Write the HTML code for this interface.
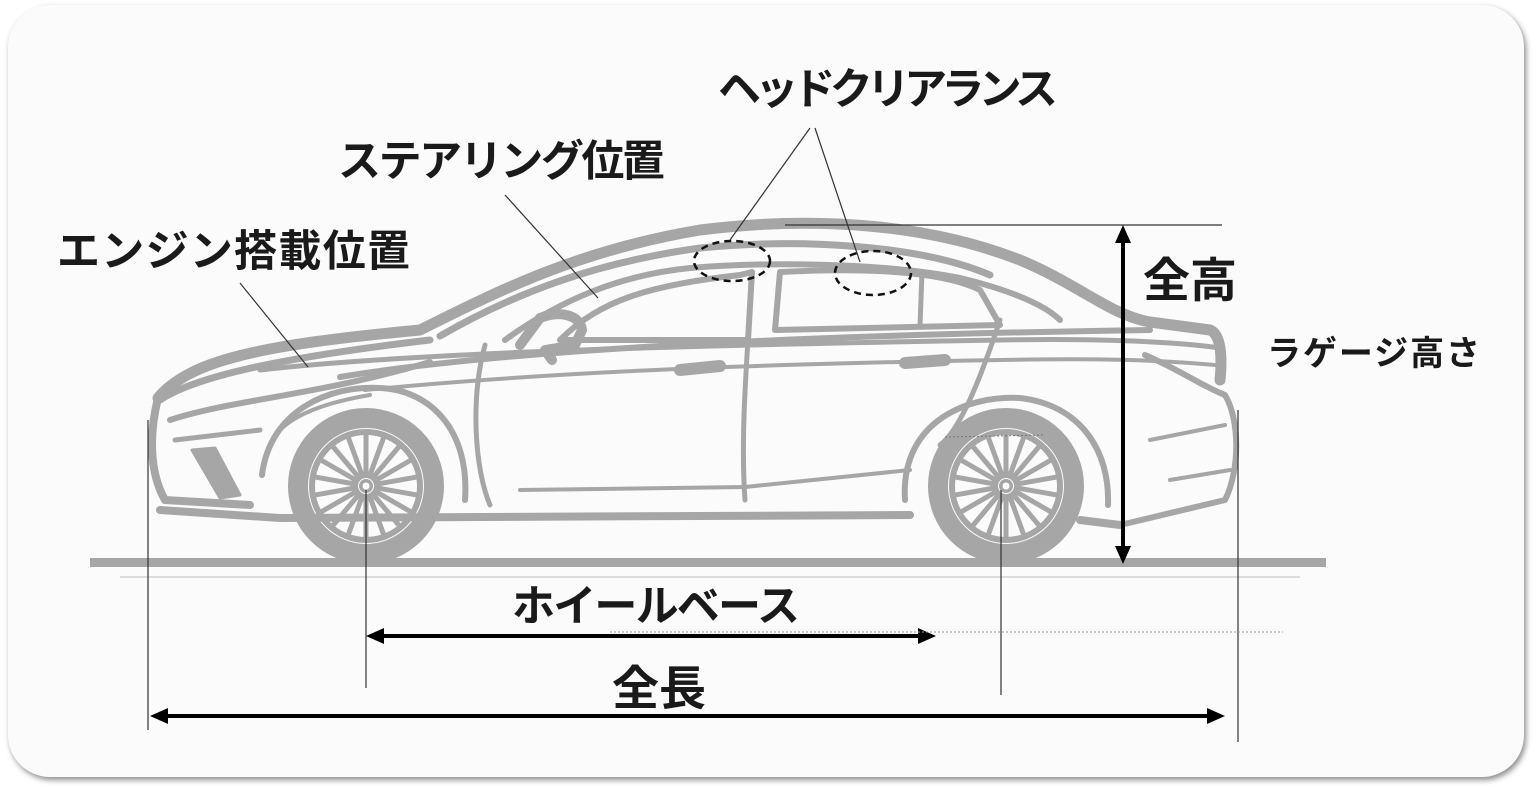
<!DOCTYPE html>
<html><head><meta charset="utf-8"><style>
html,body{margin:0;padding:0;background:#fff;width:1536px;height:788px;overflow:hidden}
.card{position:absolute;left:8px;top:5px;width:1516px;height:772px;border-radius:42px;background:#fbfbfb;box-shadow:2px 3px 6px rgba(0,0,0,.45)}
svg{position:absolute;left:0;top:0}
text{font-family:"Liberation Sans","Noto Sans CJK JP",sans-serif;font-weight:bold;fill:#1a1a1a}
</style></head><body>
<div class="card"></div>
<svg width="1536" height="788" viewBox="0 0 1536 788">
<defs>
<g id="wheel">
<circle r="68" fill="none" stroke="#a6a6a6" stroke-width="20"/>
<circle r="54" fill="none" stroke="#a6a6a6" stroke-width="6"/>
<g stroke="#a6a6a6" stroke-width="5">
<line x1="0" y1="-8" x2="0" y2="-52"/><line x1="0" y1="-8" x2="0" y2="-52" transform="rotate(20)"/><line x1="0" y1="-8" x2="0" y2="-52" transform="rotate(40)"/><line x1="0" y1="-8" x2="0" y2="-52" transform="rotate(60)"/><line x1="0" y1="-8" x2="0" y2="-52" transform="rotate(80)"/><line x1="0" y1="-8" x2="0" y2="-52" transform="rotate(100)"/><line x1="0" y1="-8" x2="0" y2="-52" transform="rotate(120)"/><line x1="0" y1="-8" x2="0" y2="-52" transform="rotate(140)"/><line x1="0" y1="-8" x2="0" y2="-52" transform="rotate(160)"/><line x1="0" y1="-8" x2="0" y2="-52" transform="rotate(180)"/><line x1="0" y1="-8" x2="0" y2="-52" transform="rotate(200)"/><line x1="0" y1="-8" x2="0" y2="-52" transform="rotate(220)"/><line x1="0" y1="-8" x2="0" y2="-52" transform="rotate(240)"/><line x1="0" y1="-8" x2="0" y2="-52" transform="rotate(260)"/><line x1="0" y1="-8" x2="0" y2="-52" transform="rotate(280)"/><line x1="0" y1="-8" x2="0" y2="-52" transform="rotate(300)"/><line x1="0" y1="-8" x2="0" y2="-52" transform="rotate(320)"/><line x1="0" y1="-8" x2="0" y2="-52" transform="rotate(340)"/>
</g>
<circle r="7" fill="#a6a6a6"/><circle r="3.5" fill="#fff"/>
</g>
</defs>
<rect x="90" y="558" width="1236" height="9" fill="#a6a6a6"/>
<line x1="120" y1="577" x2="1300" y2="577" stroke="#ddd" stroke-width="2"/>
<g fill="none" stroke="#a6a6a6" stroke-linecap="round" stroke-linejoin="round">
<path d="M158 398 C190 360 260 345 420 330 C500 290 580 250 700 230 C820 215 930 225 1020 260 C1080 285 1110 315 1150 322 L1210 330 C1222 335 1222 360 1220 380" stroke-width="11"/>
<path d="M440 336 C520 290 600 262 700 248 C800 238 920 245 990 275" stroke-width="7"/>
<path d="M505 340 C560 300 620 275 690 268 C760 262 880 262 960 278 C1010 290 1045 305 1060 320" stroke-width="6"/>
<path d="M560 340 C600 300 650 285 740 275 L752 272 L748 340 Z" stroke-width="6"/>
<path d="M780 272 C860 268 940 270 980 290 L1000 325 L775 330 Z" stroke-width="6"/>
<line x1="922" y1="272" x2="920" y2="326" stroke-width="5"/>
<path d="M340 377 C500 350 800 335 1150 330" stroke-width="6"/>
<path d="M260 370 C420 352 700 345 1000 340 C1100 338 1180 342 1220 348" stroke-width="5"/>
<path d="M365 390 C520 375 700 365 1000 360 C1100 358 1160 360 1215 365" stroke-width="4"/>
<path d="M160 400 C190 380 260 360 430 340" stroke-width="7"/>
<path d="M170 420 C230 400 320 395 430 362" stroke-width="6"/>
<path d="M158 398 C150 430 148 470 165 500 L250 505" stroke-width="8"/>
<path d="M175 440 L260 430" stroke-width="5"/>
<path d="M192 450 L215 448 L240 495 L220 498 Z" fill="#a6a6a6" stroke-width="3"/>
<path d="M160 510 L280 518 L910 515" stroke-width="8"/>
<path d="M485 345 C470 400 475 470 490 505" stroke-width="5"/>
<path d="M752 272 C748 350 740 430 745 500" stroke-width="5"/>
<path d="M1000 320 C980 380 960 430 940 445" stroke-width="5"/>
<path d="M520 490 L745 487 L910 470" stroke-width="4"/>
<path d="M280 430 C300 410 340 400 370 395" stroke-width="4"/>
<path d="M520 345 L540 318 C560 310 580 315 582 330 L575 345 L545 350 L552 360" stroke-width="10"/>
<path d="M680 370 L720 366" stroke-width="12"/>
<path d="M905 363 L945 360" stroke-width="12"/>
<path d="M262 475 C270 410 330 385 380 388 C430 390 470 430 465 500" stroke-width="6"/>
<path d="M905 500 C900 420 970 395 1020 398 C1080 405 1110 450 1108 505" stroke-width="6"/>
<path d="M1145 355 C1180 370 1200 385 1225 395 C1240 420 1240 470 1225 500 L1120 525" stroke-width="6"/>
<path d="M1150 440 L1225 425" stroke-width="4"/>
<path d="M1170 480 L1230 470" stroke-width="4"/>
<path d="M1080 520 L1120 525" stroke-width="8"/>
</g>
<use href="#wheel" x="366" y="486"/>
<use href="#wheel" x="1006" y="486"/>
<line x1="945" y1="437" x2="1045" y2="435" stroke="#777" stroke-width="1" stroke-dasharray="2 2"/>
<line x1="785" y1="225" x2="1222" y2="225" stroke="#333" stroke-width="1.2"/>
<line x1="1123" y1="238" x2="1123" y2="552" stroke="#000" stroke-width="4"/>
<path d="M1123 225 L1115 243 L1131 243 Z M1123 564 L1115 546 L1131 546 Z" fill="#000"/>
<line x1="148" y1="420" x2="148" y2="730" stroke="#333" stroke-width="1.2"/>
<line x1="366" y1="490" x2="366" y2="688" stroke="#333" stroke-width="1.2"/>
<line x1="1001" y1="490" x2="1001" y2="695" stroke="#333" stroke-width="1.2"/>
<line x1="1238" y1="410" x2="1238" y2="742" stroke="#333" stroke-width="1.2"/>
<line x1="378" y1="636" x2="924" y2="636" stroke="#000" stroke-width="4"/>
<path d="M366 636 L384 628 L384 644 Z M936 636 L918 628 L918 644 Z" fill="#000"/>
<line x1="610" y1="632" x2="1283" y2="632" stroke="#999" stroke-width="1" stroke-dasharray="2 2"/>
<line x1="162" y1="716" x2="1213" y2="716" stroke="#000" stroke-width="4"/>
<path d="M150 716 L168 708 L168 724 Z M1225 716 L1207 708 L1207 724 Z" fill="#000"/>
<g stroke="#333" stroke-width="1.2">
<line x1="810" y1="128" x2="730" y2="240"/>
<line x1="815" y1="128" x2="860" y2="262"/>
<line x1="505" y1="195" x2="598" y2="298"/>
<line x1="240" y1="283" x2="308" y2="367"/>
</g>
<ellipse cx="732" cy="261" rx="38" ry="20" fill="none" stroke="#111" stroke-width="2.5" stroke-dasharray="7 5"/>
<ellipse cx="873" cy="273" rx="38" ry="22" fill="none" stroke="#111" stroke-width="2.5" stroke-dasharray="7 5"/>
<text x="718" y="104" font-size="43" textLength="340">ヘッドクリアランス</text>
<text x="338" y="176" font-size="43" textLength="327">ステアリング位置</text>
<text x="57" y="266" font-size="43" textLength="353">エンジン搭載位置</text>
<text x="1143" y="297" font-size="47">全高</text>
<text x="1267" y="365" font-size="34" textLength="213">ラゲージ高さ</text>
<text x="512" y="621" font-size="43" textLength="288">ホイールベース</text>
<text x="612" y="705" font-size="47">全長</text>
</svg>
</body></html>
